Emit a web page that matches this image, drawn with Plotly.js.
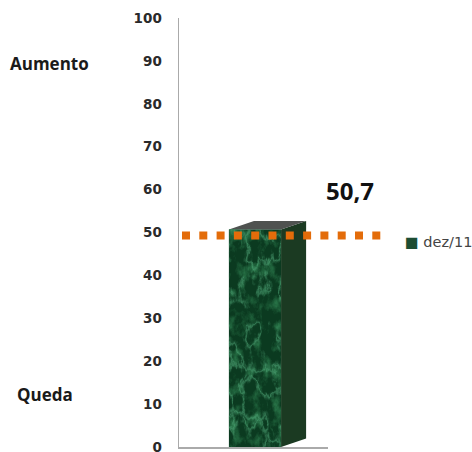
<!DOCTYPE html>
<html><head><meta charset="utf-8">
<script src="https://cdn.plot.ly/plotly-3.0.1.min.js"></script>
<style>html,body{margin:0;padding:0;background:#fff;overflow:hidden}</style>
</head><body><div id="c" style="width:472px;height:452px"></div>
<script>
const seriesName = 'dez/11';
const xPos = [0];
const values = [50.7];
const refLine = [49.3];
const yTicks = [0,10,20,30,40,50,60,70,80,90,100];
const valueLabel = '50,7';
const upLabel = 'Aumento';
const downLabel = 'Queda';

const barW = 0.35, depthX = 0.168, depthY = 2;
const v = values[0], x0 = xPos[0] - barW/2, x1 = xPos[0] + barW/2;

const marble = `<svg xmlns="http://www.w3.org/2000/svg" width="104" height="436" viewBox="0 0 52 218" preserveAspectRatio="none">
<defs>
<filter id="b" x="0" y="0" width="100%" height="100%" color-interpolation-filters="sRGB">
<feTurbulence type="fractalNoise" baseFrequency="0.09 0.06" numOctaves="5" seed="5"/>
<feColorMatrix type="matrix" values="0 0 0 0 0.15  0 0 0 0 0.44  0 0 0 0 0.27  3 0 0 0 -1.45"/>
<feGaussianBlur stdDeviation="0.4"/>
</filter>
<filter id="a" x="0" y="0" width="100%" height="100%" color-interpolation-filters="sRGB">
<feTurbulence type="fractalNoise" baseFrequency="0.06 0.03" numOctaves="5" seed="23"/>
<feColorMatrix type="matrix" values="0 0 0 0 0.33  0 0 0 0 0.68  0 0 0 0 0.49  1 0 0 0 0"/>
<feComponentTransfer><feFuncA type="table" tableValues="0 0 0 0 0 0 0 0.1 0.55 0.2 0 0 0 0 0 0 0 0 0 0"/></feComponentTransfer>
<feGaussianBlur stdDeviation="0.6"/>
</filter>
</defs>
<rect width="52" height="218" fill="#0b3a20"/>
<rect width="52" height="218" filter="url(#b)"/>
<rect width="52" height="218" filter="url(#a)"/>
</svg>`;

const traces = [
  {type:'bar', name:seriesName, x:xPos, y:values, width:barW,
   marker:{color:'#1d4d33', line:{width:0}}, hoverinfo:'skip'},
  {type:'scatter', mode:'lines', x:[x1,x1+depthX,x1+depthX,x1,x1], y:[0,depthY,v+depthY,v,0],
   fill:'toself', fillcolor:'#1b3a22', line:{width:0}, showlegend:false, hoverinfo:'skip'},
  {type:'scatter', mode:'lines', x:[x0,x1,x1+depthX,x0+depthX,x0], y:[v,v,v+depthY,v+depthY,v],
   fill:'toself', fillcolor:'#4f5250', line:{width:0}, showlegend:false, hoverinfo:'skip'}
];

const W = 293;
const px = p => (p - 179) / W;
const layout = {
  width:472, height:452,
  margin:{l:179, r:0, t:18, b:5},
  paper_bgcolor:'#fff', plot_bgcolor:'#fff',
  showlegend:false,
  xaxis:{domain:[0,149/W], range:[-0.51,0.49], showticklabels:false, ticks:'', showgrid:false, zeroline:false,
         showline:true, linecolor:'#aaa', linewidth:1.5, fixedrange:true},
  yaxis:{range:[0,100], tickvals:yTicks, ticktext:yTicks.map(String), ticks:'outside', ticklen:13,
         tickcolor:'rgba(0,0,0,0)', showgrid:false, zeroline:false, showline:true,
         linecolor:'#aaa', linewidth:1.5, fixedrange:true, ticklabeloverflow:'allow', ticklabelshift:2.5,
         tickfont:{family:'DejaVu Sans', size:13.5, color:'#2a2a2a', weight:700}},
  images:[{source:'data:image/svg+xml;charset=utf-8,'+encodeURIComponent(marble),
           xref:'x', yref:'y', x:x0, y:v, sizex:barW, sizey:v,
           xanchor:'left', yanchor:'top', sizing:'stretch', layer:'above'}],
  shapes:[{type:'line', layer:'above', xref:'paper', yref:'y', x0:px(182), x1:px(382), y0:refLine[0], y1:refLine[0],
           line:{color:'#e36c0a', width:8, dash:'8px,9.3px'}}],
  annotations:[
    {xref:'paper', yref:'paper', x:px(350), y:0.597, xanchor:'center', yanchor:'middle', showarrow:false,
     text:valueLabel, font:{family:'Open Sans', size:24, color:'#111', weight:700}},
    {xref:'paper', yref:'paper', x:px(49), y:0.895, xanchor:'center', yanchor:'middle', showarrow:false,
     text:upLabel, font:{family:'Open Sans', size:17, color:'#1a1a1a', weight:700}},
    {xref:'paper', yref:'paper', x:px(45), y:0.123, xanchor:'center', yanchor:'middle', showarrow:false,
     text:downLabel, font:{family:'Open Sans', size:17, color:'#1a1a1a', weight:700}},
    {xref:'paper', yref:'paper', x:px(405), y:0.477, xanchor:'left', yanchor:'middle', showarrow:false, borderpad:0, borderwidth:0,
     text:'<span style="color:#1d4d33">■</span> '+seriesName, font:{family:'DejaVu Sans', size:14.5, color:'#444'}}
  ]
};
Plotly.newPlot('c', traces, layout, {displayModeBar:false, staticPlot:true});
</script></body></html>
